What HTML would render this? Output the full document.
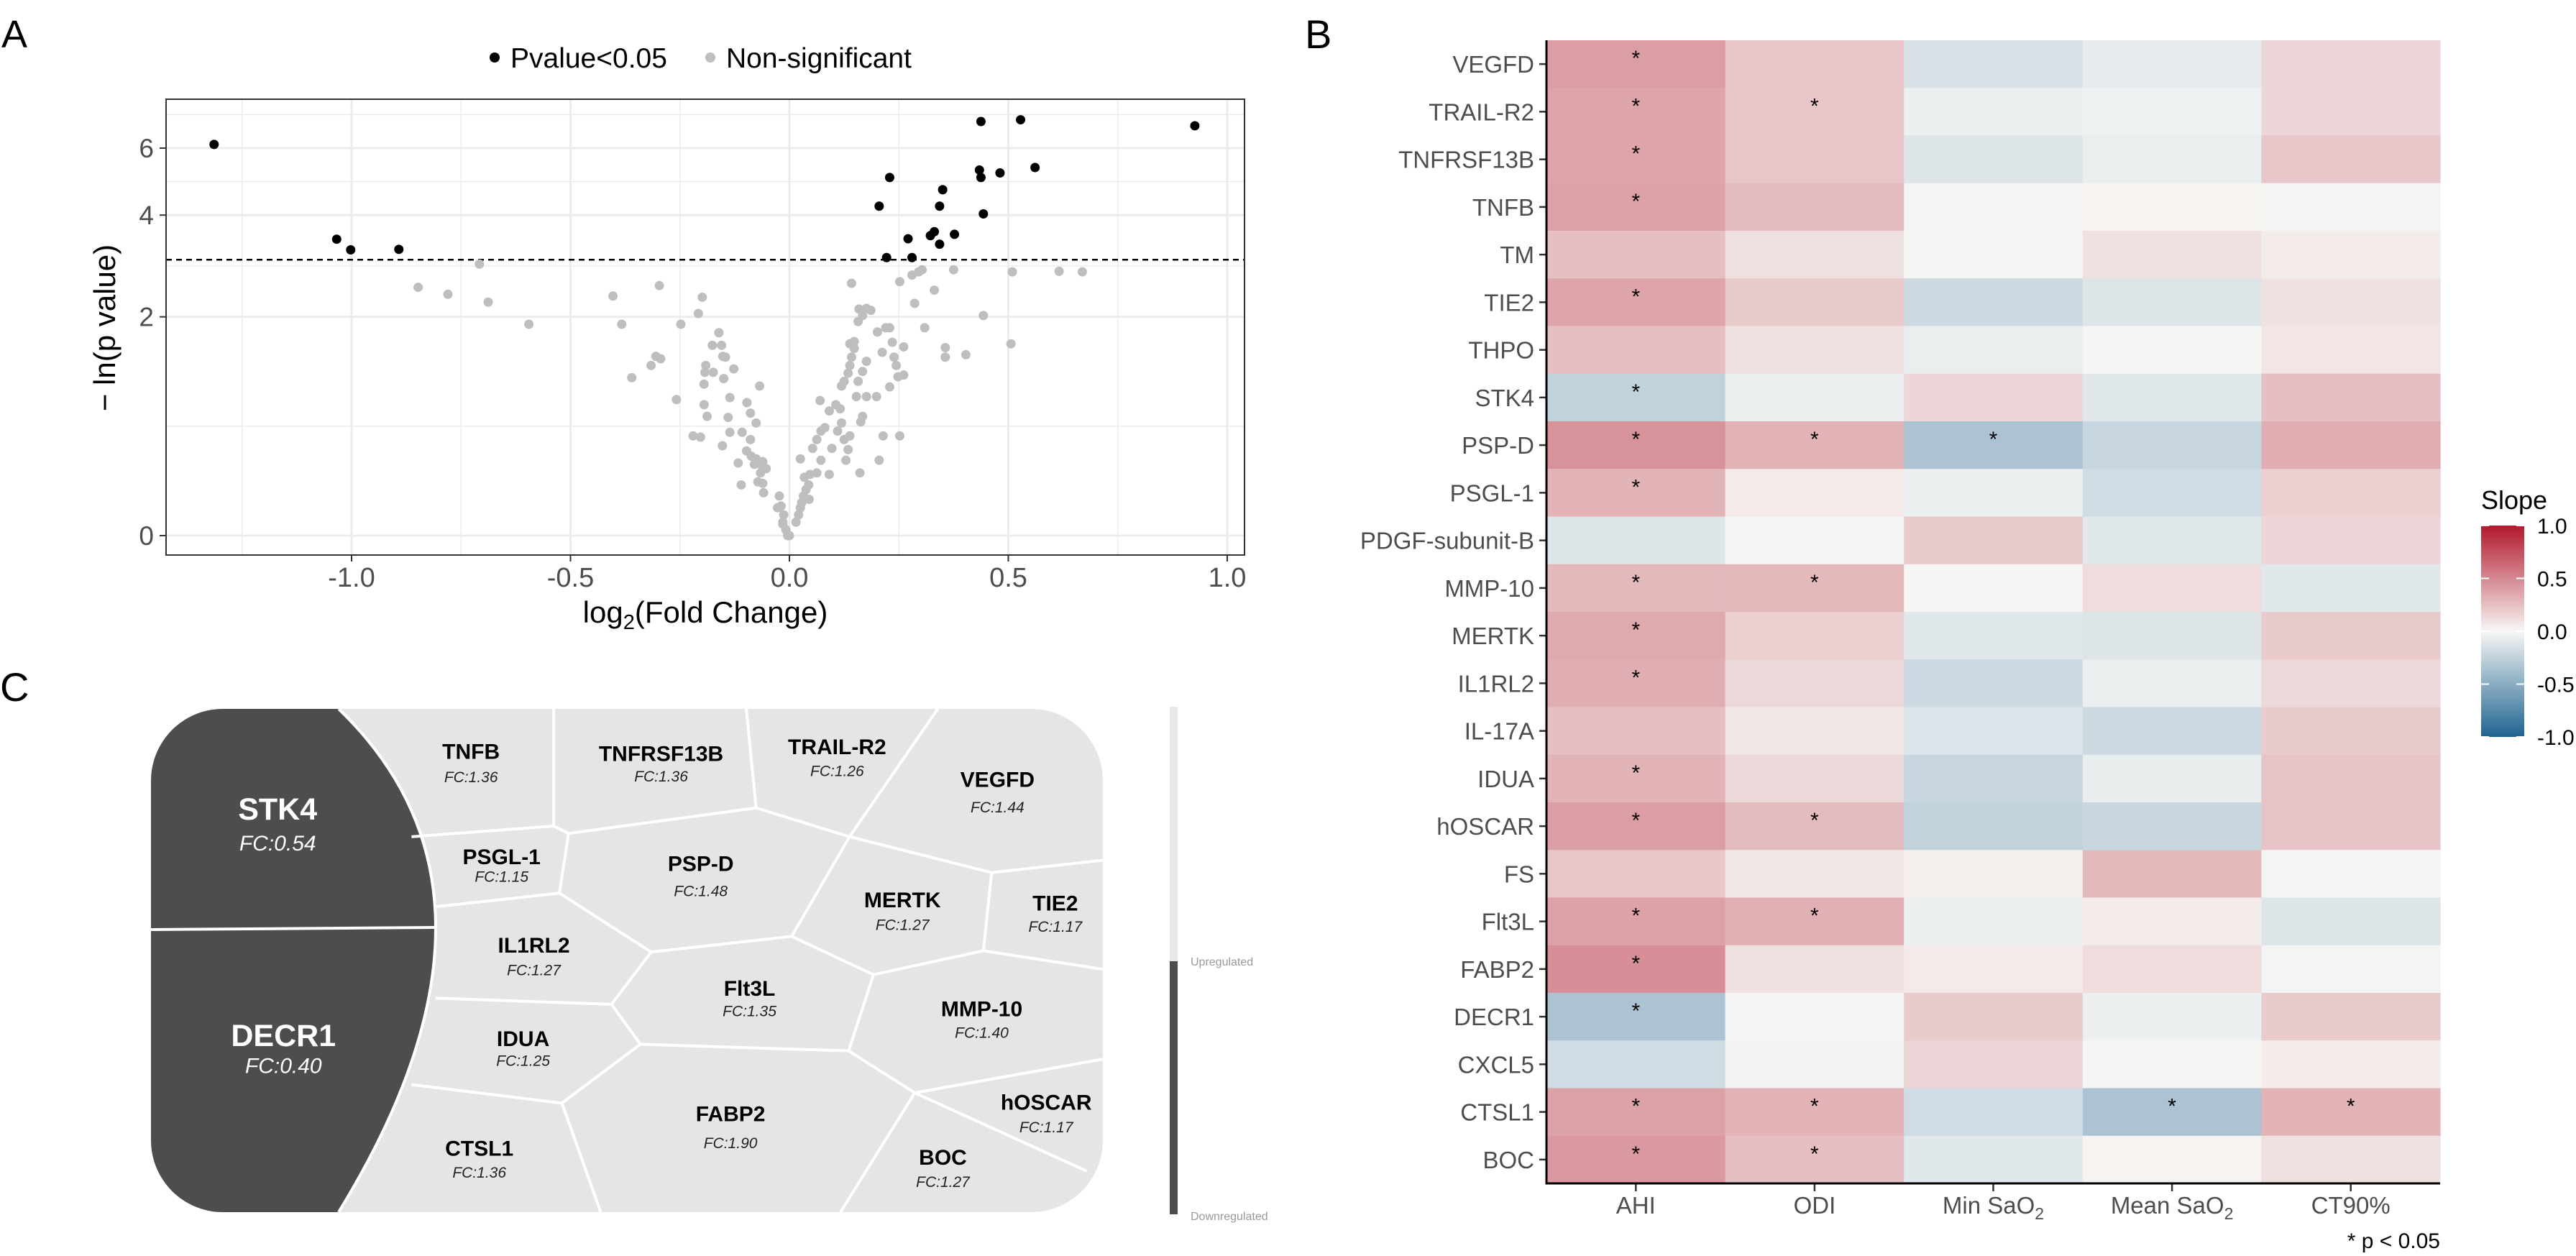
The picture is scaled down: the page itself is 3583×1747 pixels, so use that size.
<!DOCTYPE html>
<html><head><meta charset="utf-8"><style>
html,body{margin:0;padding:0;background:#fff;}
svg{display:block;font-family:"Liberation Sans",Arial,sans-serif;}
</style></head><body>
<svg id="fig" width="3583" height="1747" viewBox="0 0 3583 1747" xmlns="http://www.w3.org/2000/svg">
<rect x="0" y="0" width="3583" height="1747" fill="#fff"/>
<g id="panelA">
  <text x="2" y="66" font-size="54" fill="#000">A</text>
  <g>
    <circle cx="688" cy="80" r="7" fill="#000"/>
    <text x="710" y="94" font-size="39" fill="#000">Pvalue&lt;0.05</text>
    <circle cx="988" cy="80" r="7" fill="#bebebe"/>
    <text x="1010" y="94" font-size="39" fill="#000">Non-significant</text>
  </g>
  <g id="volGrid"></g>
  <g id="volPts"></g>
  <rect x="231" y="138" width="1500" height="634" fill="none" stroke="#333" stroke-width="2"/>
  <g id="volAxes"></g>
  <text x="981" y="866" font-size="42" text-anchor="middle" fill="#000">log<tspan font-size="29" dy="9">2</tspan><tspan dy="-9">(Fold Change)</tspan></text>
  <text transform="translate(160,456) rotate(-90)" font-size="42" text-anchor="middle" fill="#000">− ln(p value)</text>
</g>
<g id="panelB">
  <text x="1815" y="67" font-size="56" fill="#000">B</text>
  <g id="heat"></g>
  <g id="heatAxes"></g>
  <text x="3394" y="1736" font-size="30" text-anchor="end" fill="#000">* p &lt; 0.05</text>
  <g>
    <text x="3451" y="708" font-size="36" fill="#000">Slope</text>
    <defs><linearGradient id="slopeGrad" x1="0" y1="0" x2="0" y2="1">
      <stop offset="0" stop-color="#b2182b"/><stop offset="0.5" stop-color="#f7f7f5"/><stop offset="1" stop-color="#1f6390"/>
    </linearGradient></defs>
    <rect x="3451" y="731" width="60" height="294" fill="url(#slopeGrad)"/>
    <g id="cbTicks"></g>
  </g>
</g>
<g id="panelC">
  <text x="0" y="975" font-size="56" fill="#000">C</text>
  <defs><clipPath id="tmClip"><rect x="210" y="986" width="1324" height="700" rx="100" ry="100"/></clipPath></defs>
  <rect x="210" y="986" width="1324" height="700" rx="100" ry="100" fill="#e5e5e5"/>
  <path clip-path="url(#tmClip)" d="M 150 900 L 471 986 Q 741 1246 471 1686 L 150 1800 Z" fill="#4d4d4d"/>
  <path d="M 471 986 Q 741 1246 471 1686" fill="none" stroke="#fff" stroke-width="4"/>
  <line x1="210" y1="1293" x2="606" y2="1290" stroke="#fff" stroke-width="4"/>
  <g id="tmLines" transform="translate(0,850) scale(1.1494,0.5727)"></g>
  <g id="tmLabels"></g>
  <rect x="1627" y="983" width="11" height="354" fill="#e8e8e8"/>
  <rect x="1627" y="1337" width="11" height="352" fill="#4d4d4d"/>
  <text x="1656" y="1343" font-size="16" fill="#999">Upregulated</text>
  <text x="1656" y="1697" font-size="16" fill="#999">Downregulated</text>
</g>
</svg>
<script>
// ---------- Volcano data ----------
const sigX = [-1.314,-1.034,-1.002,-0.892,0.205,0.229,0.222,0.271,0.280,0.322,0.331,0.343,0.343,0.350,0.377,0.4375,0.434,0.4375,0.443,0.481,0.528,0.561,0.926];
const sigY = [6.13,3.43,3.20,3.21,4.23,5.04,3.04,3.44,3.04,3.51,3.60,3.32,4.23,4.68,3.54,7.0,5.27,5.04,4.03,5.18,7.07,5.35,6.83];
const nsX = [-0.708,-0.848,-0.780,-0.688,-0.595,-0.403,-0.383,-0.297,-0.248,-0.208,-0.199,-0.161,-0.176,-0.155,-0.152,-0.146,-0.191,-0.127,-0.305,-0.294,-0.316,-0.360,-0.193,-0.174,-0.150,-0.195,-0.258,-0.136,-0.097,-0.068,-0.195,-0.188,-0.140,-0.089,-0.076,-0.136,-0.108,-0.153,-0.220,-0.203,-0.089,-0.098,-0.087,-0.076,-0.117,-0.061,-0.080,-0.061,-0.066,-0.072,-0.061,-0.053,-0.110,-0.059,-0.023,-0.027,-0.013,-0.015,-0.008,-0.004,0.0,-0.015,-0.019,
0.015,0.021,0.025,0.028,0.032,0.038,0.045,0.034,0.025,0.047,0.044,0.053,0.0625,0.072,0.072,0.081,0.091,0.0625,0.097,0.110,0.119,0.125,0.129,0.134,0.138,0.091,0.106,0.070,0.116,0.119,0.125,0.134,0.138,0.142,0.148,0.148,0.138,0.167,0.153,0.157,0.167,0.176,0.163,0.157,0.167,0.176,0.186,0.159,0.201,0.212,0.220,0.229,0.235,0.239,0.244,0.248,0.261,0.261,0.229,0.199,0.176,0.214,0.252,0.205,0.161,0.142,0.252,0.280,0.295,0.303,0.331,0.286,0.309,0.356,0.356,0.403,0.443,0.375,0.509,0.506,0.616,0.669];
const nsY = [2.91,2.48,2.36,2.23,1.89,2.33,1.89,2.51,1.89,2.05,2.31,1.77,1.60,1.60,1.46,1.45,1.35,1.31,1.46,1.43,1.35,1.21,1.27,1.27,1.20,1.14,0.98,1.00,0.95,1.12,0.93,0.82,0.81,0.85,0.76,0.68,0.68,0.57,0.65,0.64,0.62,0.53,0.49,0.47,0.44,0.45,0.43,0.41,0.37,0.31,0.30,0.40,0.29,0.24,0.22,0.15,0.11,0.06,0.03,0.00,0.00,0.07,0.16,
0.07,0.11,0.15,0.18,0.22,0.26,0.20,0.34,0.47,0.36,0.29,0.55,0.62,0.69,0.46,0.72,0.36,0.37,0.55,0.69,0.76,0.62,0.46,0.54,0.65,0.87,0.93,0.97,0.89,1.12,1.17,1.26,1.35,1.45,1.56,1.65,1.62,0.82,1.01,1.17,1.28,1.40,0.77,1.93,2.02,2.13,2.10,2.12,1.78,1.51,1.84,1.84,1.64,1.45,1.35,1.22,1.58,1.24,1.11,1.01,1.01,0.65,0.65,0.46,0.37,2.55,2.58,2.70,2.76,2.80,2.43,2.21,1.84,1.57,1.45,1.48,2.02,2.80,2.76,1.62,2.77,2.76];
const xTicks = [-1.0,-0.5,0.0,0.5,1.0];
const xTickLabels = ["-1.0","-0.5","0.0","0.5","1.0"];
const xMinor = [-1.25,-0.75,-0.25,0.25,0.75];
const yTicks = [0,2,4,6];
const cutoff = 2.996;

const NS = "http://www.w3.org/2000/svg";
function mk(tag, attrs, parent){ const e=document.createElementNS(NS,tag); for(const k in attrs) e.setAttribute(k,attrs[k]); parent.appendChild(e); return e; }
const xS = v => 1098 + 609*v;
const yS = v => 745 - 277*Math.log1p(v);

const grid = document.getElementById('volGrid');
// minor y grid (midpoints in transformed space)
for(let i=0;i<yTicks.length;i++){
  const a=Math.log1p(yTicks[i]); const b = i+1<yTicks.length?Math.log1p(yTicks[i+1]):Math.log1p(yTicks[i])+ (Math.log1p(yTicks[i])-Math.log1p(yTicks[i-1]));
  const py = 745 - 277*(a+b)/2;
  if(py>138){ const l=mk('line',{x1:231,x2:1731,y1:py,y2:py,stroke:'#ebebeb','stroke-width':1.4},grid);
    }
}
xMinor.forEach(v=>{ const l=mk('line',{x1:xS(v),x2:xS(v),y1:138,y2:772,stroke:'#ebebeb','stroke-width':1.4},grid);
    });
yTicks.forEach(v=>{ const l=mk('line',{x1:231,x2:1731,y1:yS(v),y2:yS(v),stroke:'#ebebeb','stroke-width':2.8},grid);
    });
xTicks.forEach(v=>{ const l=mk('line',{x1:xS(v),x2:xS(v),y1:138,y2:772,stroke:'#ebebeb','stroke-width':2.8},grid);
    });
const cl = mk('line',{x1:231,x2:1731,y1:yS(cutoff),y2:yS(cutoff),stroke:'#000','stroke-width':2.5,'stroke-dasharray':'8,6'},grid);



const pts = document.getElementById('volPts');
nsX.forEach((x,i)=>{ const c=mk('circle',{cx:xS(x),cy:yS(nsY[i]),r:6.5,fill:'#bebebe'},pts);
    });
sigX.forEach((x,i)=>{ const c=mk('circle',{cx:xS(x),cy:yS(sigY[i]),r:6.5,fill:'#000'},pts);
    });

const ax = document.getElementById('volAxes');
yTicks.forEach(v=>{
  const t=mk('line',{x1:222,x2:231,y1:yS(v),y2:yS(v),stroke:'#333','stroke-width':2},ax);
   
  const l=mk('text',{x:214,y:yS(v)+13,'font-size':37,'text-anchor':'end',fill:'#4d4d4d'},ax); l.textContent=String(v);
   
});
xTicks.forEach((v,i)=>{
  const t=mk('line',{x1:xS(v),x2:xS(v),y1:772,y2:781,stroke:'#333','stroke-width':2},ax);
   
  const l=mk('text',{x:xS(v),y:816,'font-size':38,'text-anchor':'middle',fill:'#4d4d4d'},ax); l.textContent=xTickLabels[i];
   
});

// ---------- Heatmap data ----------
const proteins = ["VEGFD","TRAIL-R2","TNFRSF13B","TNFB","TM","TIE2","THPO","STK4","PSP-D","PSGL-1","PDGF-subunit-B","MMP-10","MERTK","IL1RL2","IL-17A","IDUA","hOSCAR","FS","Flt3L","FABP2","DECR1","CXCL5","CTSL1","BOC"];
const measures = ["AHI","ODI","Min SaO2","Mean SaO2","CT90%"];
const slopeAHI  = [0.40,0.37,0.37,0.38,0.25,0.37,0.25,-0.25,0.45,0.30,-0.12,0.28,0.35,0.33,0.25,0.30,0.40,0.22,0.38,0.47,-0.35,-0.18,0.38,0.42];
const slopeODI  = [0.22,0.22,0.22,0.27,0.10,0.20,0.10,-0.05,0.30,0.06,-0.01,0.28,0.18,0.14,0.07,0.14,0.27,0.07,0.32,0.10,-0.01,-0.03,0.30,0.25];
const slopeMin  = [-0.15,-0.05,-0.12,-0.02,-0.01,-0.20,-0.06,0.15,-0.35,-0.05,0.20,-0.01,-0.10,-0.20,-0.13,-0.22,-0.25,0.04,-0.05,0.06,0.20,0.16,-0.18,-0.10];
const slopeMean = [-0.08,-0.04,-0.06,0.02,0.10,-0.12,-0.01,-0.10,-0.22,-0.18,-0.10,0.12,-0.12,-0.06,-0.20,-0.07,-0.22,0.28,0.05,0.12,-0.05,-0.01,-0.35,0.02];
const slopeCT90 = [0.15,0.15,0.22,-0.02,0.05,0.10,0.08,0.25,0.33,0.18,0.15,-0.10,0.20,0.14,0.20,0.23,0.23,-0.01,-0.12,-0.02,0.20,0.05,0.30,0.10];
const sigAHI  = [1,1,1,1,0,1,0,1,1,1,0,1,1,1,0,1,1,0,1,1,1,0,1,1];
const sigODI  = [0,1,0,0,0,0,0,0,1,0,0,1,0,0,0,0,1,0,1,0,0,0,1,1];
const sigMin  = [0,0,0,0,0,0,0,0,1,0,0,0,0,0,0,0,0,0,0,0,0,0,0,0];
const sigMean = [0,0,0,0,0,0,0,0,0,0,0,0,0,0,0,0,0,0,0,0,0,0,1,0];
const sigCT90 = [0,0,0,0,0,0,0,0,0,0,0,0,0,0,0,0,0,0,0,0,0,0,1,0];
const legendTicks = [1.0,0.5,0.0,-0.5,-1.0];
const legendLabels = ["1.0","0.5","0.0","-0.5","-1.0"];

const hmL=2151, hmR=3394, hmT=56, hmB=1646;
const rowH=(hmB-hmT)/proteins.length, colW=(hmR-hmL)/measures.length;
const colOf = j => hmL + j*colW;
const rowOf = i => hmT + i*rowH;
function slopeColor(v){
  const mid=[247,247,245], hi=[178,24,43], lo=[31,99,144];
  const e = v>=0?hi:lo, a=Math.min(1,Math.abs(v));
  return 'rgb('+mid.map((m,k)=>Math.round(m+(e[k]-m)*a)).join(',')+')';
}
const series=[slopeAHI,slopeODI,slopeMin,slopeMean,slopeCT90];
const sigs=[sigAHI,sigODI,sigMin,sigMean,sigCT90];
const heat=document.getElementById('heat');
series.forEach((s,j)=>{ s.forEach((v,i)=>{
  const r=mk('rect',{x:colOf(j),y:rowOf(i),width:colW+0.6,height:rowH+0.6,fill:slopeColor(v)},heat);
   
  if(sigs[j][i]){ const t=mk('text',{x:colOf(j)+colW/2,y:rowOf(i)+rowH*0.5+2,'font-size':30,'text-anchor':'middle',fill:'#000'},heat);
    t.textContent='*';   }
});});
const hax=document.getElementById('heatAxes');
proteins.forEach((p,i)=>{
  const cy=rowOf(i)+rowH/2;
  const t=mk('line',{x1:2141,x2:hmL,y1:cy,y2:cy,stroke:'#333','stroke-width':2.5},hax);
   
  const l=mk('text',{x:2134,y:cy+12,'font-size':33,'text-anchor':'end',fill:'#4d4d4d'},hax); l.textContent=p;
   
});
measures.forEach((m,j)=>{
  const cx=colOf(j)+colW/2;
  const t=mk('line',{x1:cx,x2:cx,y1:hmB,y2:hmB+11,stroke:'#333','stroke-width':2.5},hax);
   
  const l=mk('text',{x:cx,y:1688,'font-size':33,'text-anchor':'middle',fill:'#4d4d4d'},hax);
   
  if(m.indexOf('SaO2')>=0){ l.appendChild(document.createTextNode(m.replace('SaO2','SaO')));
    const sub=mk('tspan',{'font-size':23,dy:8},l); sub.textContent='2'; } else l.textContent=m;
});
const yl=mk('line',{x1:hmL,x2:hmL,y1:hmT,y2:hmB+1.5,stroke:'#000','stroke-width':3},hax);
 
const xl=mk('line',{x1:hmL-1.5,x2:hmR,y1:hmB,y2:hmB,stroke:'#000','stroke-width':3},hax);
 
const cbt=document.getElementById('cbTicks');
legendTicks.forEach((v,i)=>{
  const py=878 - v*147;
  const a=mk('line',{x1:3451,x2:3462,y1:py,y2:py,stroke:'#fff','stroke-width':2},cbt);
   
  const b=mk('line',{x1:3500,x2:3511,y1:py,y2:py,stroke:'#fff','stroke-width':2},cbt);
   
  const l=mk('text',{x:3529,y:py+11,'font-size':30,fill:'#000'},cbt); l.textContent=legendLabels[i];
   
});

// ---------- Treemap ----------
const borders = [
 [[670,237],[670,522]],
 [[903,237],[915,478]],
 [[1135,237],[1028,548]],
 [[498,548],[670,522],[688,540],[915,478],[1028,548],[1200,635],[1335,605]],
 [[688,540],[677,685]],
 [[527,718],[677,685],[788,828],[958,790],[1028,548]],
 [[1200,635],[1190,825],[1335,870]],
 [[958,790],[1057,883],[1190,825]],
 [[788,828],[740,955],[527,940]],
 [[1057,883],[1027,1068]],
 [[740,955],[775,1052],[1027,1068],[1107,1170],[1335,1088]],
 [[775,1052],[680,1195],[498,1150]],
 [[680,1195],[727,1460]],
 [[1107,1170],[1017,1460]],
 [[1107,1170],[1315,1360]]
];
const tml=document.getElementById('tmLines');
borders.forEach(b=>{
  const p=mk('polyline',{points:b.map(q=>q.join(',')).join(' '),fill:'none',stroke:'#fff','stroke-width':4,'vector-effect':'non-scaling-stroke','stroke-linejoin':'round'},tml);
   
});
const tmNames = ["TNFB","TNFRSF13B","TRAIL-R2","VEGFD","STK4","DECR1","PSGL-1","PSP-D","MERTK","TIE2","IL1RL2","Flt3L","MMP-10","IDUA","FABP2","hOSCAR","CTSL1","BOC"];
const tmFC = ["1.36","1.36","1.26","1.44","0.54","0.40","1.15","1.48","1.27","1.17","1.27","1.35","1.40","1.25","1.90","1.17","1.36","1.27"];
const tmPos = [[570,340,402],[800,345,400],[1013,328,387],[1207,408,475],[336,480,562],[343,1030,1103],[607,595,643],[848,612,678],[1092,700,760],[1277,708,765],[646,810,870],[907,915,970],[1188,965,1022],[633,1037,1090],[884,1220,1290],[1266,1192,1252],[580,1303,1362],[1141,1325,1385]];
const tlab=document.getElementById('tmLabels');
tmNames.forEach((n,i)=>{
  const big = (n==="STK4"||n==="DECR1");
  const cx=tmPos[i][0]/0.87, ny=850+tmPos[i][1]/1.746, fy=850+tmPos[i][2]/1.746;
  const col = big?'#fff':'#000';
  const a=mk('text',{x:cx,y:ny+(big?15:11),'font-size':big?43:30,'font-weight':'bold','text-anchor':'middle',fill:col},tlab); a.textContent=n;
   
  const b=mk('text',{x:cx,y:fy+(big?11:8),'font-size':big?30:21,'font-style':'italic','text-anchor':'middle',fill:big?'#fff':'#222'},tlab); b.textContent='FC:'+tmFC[i];
   
});
</script>
</body></html>
